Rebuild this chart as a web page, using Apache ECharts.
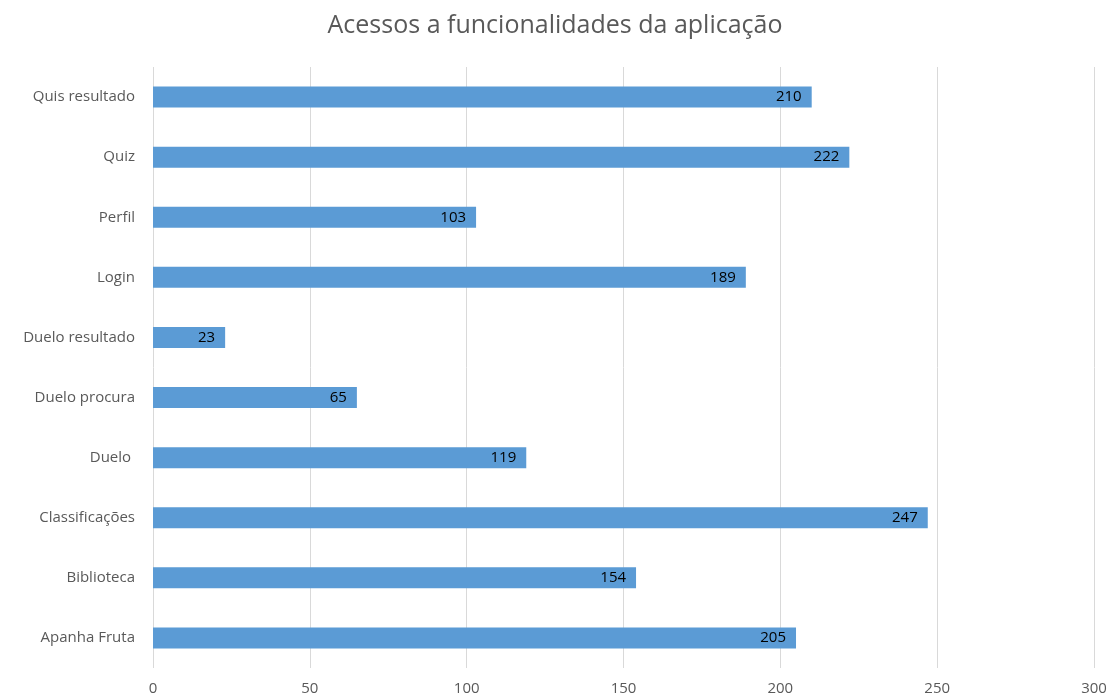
<!DOCTYPE html>
<html>
<head>
<meta charset="utf-8">
<script src="https://cdn.jsdelivr.net/npm/echarts@6/dist/echarts.min.js"></script>
<style>
  html, body { margin: 0; padding: 0; background: #fff; }
  #chart { width: 1110px; height: 700px; }
</style>
</head>
<body>
<div id="chart"></div>
<script>
// categorias de baixo para cima
var categorias = ['Apanha Fruta', 'Biblioteca', 'Classificações', 'Duelo ', 'Duelo procura',
    'Duelo resultado', 'Login', 'Perfil', 'Quiz', 'Quis resultado'];
var acessos = [205, 154, 247, 119, 65, 23, 189, 103, 222, 210];
var eixoMax = 300;
var eixoPasso = 50;

var myChart = echarts.init(document.getElementById('chart'));
var fonte = 'Open Sans, Noto Sans, sans-serif';
myChart.setOption({
    animation: false,
    title: {
        text: 'Acessos a funcionalidades da aplicação',
        left: 'center',
        top: 8,
        textStyle: {
            fontFamily: fonte,
            fontSize: 25,
            fontWeight: 'normal',
            color: '#595959'
        }
    },
    grid: {
        left: 153,
        right: 16,
        top: 67,
        bottom: 32,
        containLabel: false
    },
    xAxis: {
        type: 'value',
        min: 0,
        max: eixoMax,
        interval: eixoPasso,
        axisLine: {show: false},
        axisTick: {show: false},
        axisLabel: {
            margin: 13,
            fontFamily: fonte,
            fontSize: 15,
            color: '#595959'
        },
        splitLine: {
            show: true,
            lineStyle: {color: '#d9d9d9', width: 1}
        }
    },
    yAxis: {
        type: 'category',
        data: categorias,
        axisLine: {show: false},
        axisTick: {show: false},
        axisLabel: {
            margin: 18,
            fontFamily: fonte,
            fontSize: 15,
            color: '#595959'
        }
    },
    series: [{
        name: 'Acessos',
        type: 'bar',
        data: acessos,
        barWidth: 21,
        itemStyle: {color: '#5b9bd5'},
        label: {
            show: true,
            position: 'insideRight',
            distance: 10,
            fontFamily: fonte,
            fontSize: 15,
            color: '#000'
        }
    }]
});
</script>
</body>
</html>
